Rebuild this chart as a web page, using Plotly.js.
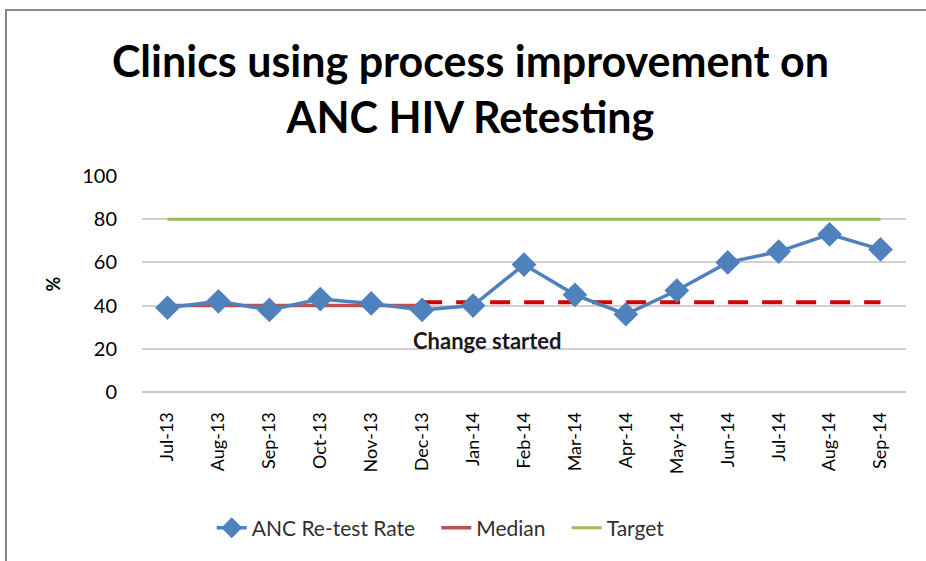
<!DOCTYPE html>
<html><head><meta charset="utf-8">
<script src="https://cdn.plot.ly/plotly-3.0.1.min.js"></script>
<style>body{margin:0;background:#fff}#chart{width:926px;height:561px}</style>
</head><body><div id="chart"></div>
<script>
var months = ["Jul-13","Aug-13","Sep-13","Oct-13","Nov-13","Dec-13","Jan-14","Feb-14","Mar-14","Apr-14","May-14","Jun-14","Jul-14","Aug-14","Sep-14"];
var retestRate = [39,42,38,43,41,38,40,59,45,36,47,60,65,73,66];
var medianBaseline = [40,40,40,40,40,40,null,null,null,null,null,null,null,null,null];
var medianExtended = [null,null,null,null,null,41.5,41.5,41.5,41.5,41.5,41.5,41.5,41.5,41.5,41.5];
var target = [80,80,80,80,80,80,80,80,80,80,80,80,80,80,80];
var yTicks = [0,20,40,60,80,100];

var font = "Lato, 'Open Sans', sans-serif";
var traces = [
  {x: months, y: target, name: "Target", type: "scatter", mode: "lines",
   line: {color: "#9BBB59", width: 3}, legendrank: 3},
  {x: months, y: medianExtended, name: "Median ext", type: "scatter", mode: "lines",
   line: {color: "#D40000", width: 4, dash: "20px,14px"}, showlegend: false, connectgaps: false},
  {x: months, y: medianBaseline, name: "Median\u00a0\u00a0\u00a0", type: "scatter", mode: "lines",
   line: {color: "#C0504D", width: 3.5}, legendrank: 2},
  {x: months, y: retestRate, name: "ANC Re-test Rate\u00a0\u00a0\u00a0", type: "scatter", mode: "lines+markers",
   line: {color: "#4F81BD", width: 3.5},
   marker: {symbol: "diamond", size: 19, color: "#4F81BD"}, legendrank: 1}
];
var layout = {
  width: 926, height: 561,
  margin: {l: 142, r: 20, t: 176, b: 169},
  paper_bgcolor: "#fff", plot_bgcolor: "#fff",
  font: {family: font, color: "#404040"},
  title: {text: "<b>Clinics using process improvement on<br>ANC HIV Retesting</b>",
          font: {family: font, size: 43, color: "#000"}, x: 0.508, xanchor: "center", y: 0.862, yanchor: "top"},
  xaxis: {type: "category", tickangle: -90, tickfont: {size: 18, color: "#000"},
          showgrid: false, showline: false, ticks: "outside", ticklen: 12, tickcolor: "rgba(0,0,0,0)", zeroline: false, range: [-0.5, 14.5]},
  yaxis: {range: [0, 100], tickvals: yTicks, ticktext: yTicks.map(String),
          tickfont: {size: 20, color: "#000"}, gridcolor: "#D0D0D0", gridwidth: 1.5,
          zeroline: true, zerolinecolor: "#C8C8C8", zerolinewidth: 2, showline: false, ticks: "outside", tickcolor: "rgba(0,0,0,0)", ticklen: 20,
          title: {text: "<b>%</b>", font: {size: 18, color: "#000"}, standoff: 16}},
  legend: {orientation: "h", x: 0.391, xanchor: "center", y: -0.63, yanchor: "middle",
           font: {size: 21, color: "#303030"}, traceorder: "normal"},
  annotations: [{x: 6.28, y: 23.8, xref: "x", yref: "y", text: "<b>Change started</b>",
                 showarrow: false, font: {size: 22, color: "#1a1a1a", family: font}}],
  shapes: [{type: "rect", xref: "paper", yref: "paper",
            x0: (6-142)/764, x1: (940-142)/764, y0: (561-575-169)/216, y1: (561-10-169)/216,
            line: {color: "#8a8a8a", width: 2}, fillcolor: "rgba(0,0,0,0)", layer: "below"}]
};
Plotly.newPlot("chart", traces, layout, {displayModeBar: false});
</script></body></html>
